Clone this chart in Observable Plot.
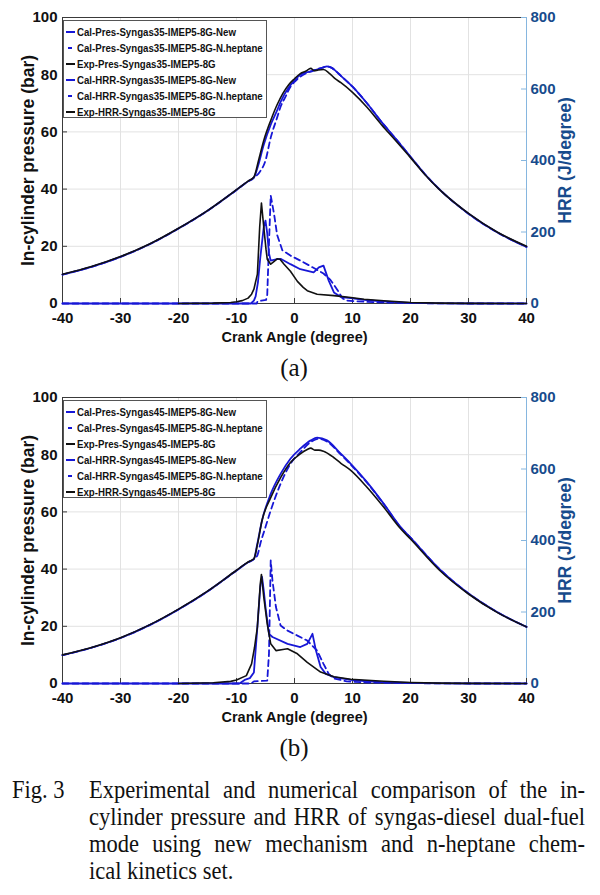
<!DOCTYPE html>
<html><head><meta charset="utf-8">
<script src="https://cdn.jsdelivr.net/npm/d3@7"></script>
<script src="https://cdn.jsdelivr.net/npm/@observablehq/plot@0.6"></script>
<style>
body{margin:0;background:#fff;}
#fig{position:relative;width:600px;height:895px;font-family:"Liberation Sans",Arial,sans-serif;overflow:hidden;}
.chart{position:absolute;left:0;width:600px;height:352px;}
.legend{position:absolute;left:63px;top:20px;width:204px;height:98px;border:1px solid #555;background:#fff;box-sizing:border-box;}
.row{position:absolute;left:0;height:16px;line-height:16px;font-size:11.5px;font-weight:bold;white-space:nowrap;color:#111;}
.row .sw{position:absolute;left:2px;top:7px;width:9px;height:0;border-top:2px solid;}
.row .sw.dash{left:4px;width:4px;}
.row .tx{position:absolute;left:13px;top:0;transform:scaleX(0.84);transform-origin:left center;}
.sub{position:absolute;left:62px;width:464px;text-align:center;font-family:"Liberation Serif","Times New Roman",serif;font-size:25px;height:30px;line-height:30px;color:#111;}
.cap{position:absolute;font-family:"Liberation Serif","Times New Roman",serif;font-size:25px;line-height:27px;color:#111;transform:scaleX(0.9);transform-origin:left top;}
.cap .ln{white-space:nowrap;text-align:justify;text-align-last:justify;}
.cap .ln.last{text-align-last:left;}
</style>
</head><body>
<div id="fig"></div>
<script>
// ---------- data ----------
const HRR_PER_BAR = 8; // right axis (J/degree) = left axis (bar) * 8
const angleTicks = [-40, -30, -20, -10, 0, 10, 20, 30, 40];
const pressureTicks = [0, 20, 40, 60, 80, 100];
const hrrTicks = [0, 200, 400, 600, 800];
const xTitle = "Crank Angle (degree)";
const yTitle = "In-cylinder pressure (bar)";
const y2Title = "HRR (J/degree)";

const legendA = ["Cal-Pres-Syngas35-IMEP5-8G-New", "Cal-Pres-Syngas35-IMEP5-8G-N.heptane", "Exp-Pres-Syngas35-IMEP5-8G",
  "Cal-HRR-Syngas35-IMEP5-8G-New", "Cal-HRR-Syngas35-IMEP5-8G-N.heptane", "Exp-HRR-Syngas35-IMEP5-8G"];
const legendB = ["Cal-Pres-Syngas45-IMEP5-8G-New", "Cal-Pres-Syngas45-IMEP5-8G-N.heptane", "Exp-Pres-Syngas45-IMEP5-8G",
  "Cal-HRR-Syngas45-IMEP5-8G-New", "Cal-HRR-Syngas45-IMEP5-8G-N.heptane", "Exp-HRR-Syngas45-IMEP5-8G"];

// (a) Syngas35 — pressure in bar: [crank angle, value]
const aPresExp = [[-40,10.2],[-35,12.9],[-30,16.4],[-25,20.8],[-20,26.3],[-15,32.5],[-10,39.8],[-8,42.8],[-7,44.2],[-6.2,50],[-5.3,57],[-4.1,64],[-3,69.5],[-2,73.5],[-1,76.5],[0,78.6],[1,80.4],[2,81.3],[2.8,82.2],[3.4,81.4],[4,81.6],[5,81.8],[6,80.5],[7,78.6],[8,77.2],[10,73.8],[12.5,68.6],[15,62.5],[17.5,56.8],[20,51],[22.5,45],[25,39.8],[30,31.5],[35,24.9],[40,20.0]];
const aPresNew = [[-40,10.1],[-35,12.8],[-30,16.3],[-25,20.7],[-20,26.2],[-15,32.4],[-10,39.7],[-8,42.7],[-7,44.0],[-6.3,48],[-5.3,55.5],[-4.1,62.5],[-3,67.5],[-2.4,70.5],[-1,75.5],[0,78],[1,80],[2,80.8],[3,81.2],[4,81.9],[5,82.6],[5.6,82.9],[6.5,82.3],[7,81.5],[8,79.6],[10,75.8],[12.5,70],[15,63.5],[17.5,57.5],[20,51.3],[22.5,45.2],[25,39.9],[30,31.4],[35,24.8],[40,19.8]];
const aPresNhep = [[-40,10.1],[-35,12.8],[-30,16.3],[-25,20.7],[-20,26.2],[-15,32.4],[-10,39.7],[-8,42.7],[-7,44.0],[-6,46],[-5,50],[-4.1,58],[-3,65],[-2.4,68.8],[-1.5,72.5],[-0.7,75.8],[0,77.5],[1,79.3],[2,80.5],[3,81.3],[4,82],[5,82.6],[5.6,82.9],[6.5,82.3],[7,81.5],[8,79.6],[10,75.8],[12.5,70],[15,63.5],[17.5,57.5],[20,51.3],[22.5,45.2],[25,39.9],[30,31.4],[35,24.8],[40,19.8]];
// (a) HRR in J/degree
const aHrrExp = [[-20,0],[-14,1],[-11,3],[-10,5],[-9,8],[-8,15],[-7.4,26],[-7,40],[-6.4,82],[-6,214],[-5.7,281],[-5.3,214],[-4.9,150],[-4.7,124],[-4.1,110],[-3.5,118],[-3,125],[-2.5,124],[-1.8,110],[-0.7,90],[0.5,62],[1.5,45],[2.2,36],[3.9,26],[6.8,22],[9.7,17],[12,12],[15.4,7.6],[20,3],[25,1],[30,0.3],[40,0]];
const aHrrNew = [[-40,0],[-7.5,0],[-7.2,5],[-7,8],[-6.7,20],[-6.3,60],[-5.9,128],[-5.3,214],[-5,232],[-4.7,196],[-4.4,140],[-4.1,120],[-3,124],[-2.4,125],[-0.7,110],[1,96],[3.3,87],[4.2,101],[5,106],[5.9,64],[6.8,31],[8,18],[9.7,15],[12,10],[15,6],[20,2],[25,0.5],[30,0],[40,0]];
const aHrrNhep = [[-40,0],[-6.5,0],[-6.4,5],[-5.7,8],[-4.9,10],[-4.7,24],[-4.4,168],[-4.1,302],[-3.5,248],[-3,192],[-2.1,149],[-0.7,134],[1,120],[2.8,104],[5,84],[6.2,66],[7.4,38],[8.3,14],[9.1,8],[12,5],[15,3],[20,1],[30,0],[40,0]];

// (b) Syngas45 — pressure in bar
const bPresExp = [[-40,10],[-35,12.6],[-30,16],[-25,20.5],[-20,26],[-15,32.3],[-10,39.6],[-8,42.5],[-7,43.6],[-6.4,48.5],[-5.6,57],[-4.1,65],[-2.4,72],[-0.7,77.3],[1,80.3],[2.2,81.8],[2.8,82.3],[3.5,81.6],[4.2,81.6],[5,81.2],[6.7,79.1],[8,77],[9.7,74.5],[12.5,68.6],[15.4,61.6],[18.3,54.1],[20,50.5],[25,39.6],[30,31.3],[35,24.8],[40,19.8]];
const bPresNew = [[-40,9.9],[-35,12.5],[-30,15.9],[-25,20.4],[-20,25.9],[-15,32.2],[-10,39.5],[-8,42.4],[-7,43.5],[-6.4,49],[-5.6,57],[-4.1,66.3],[-2.4,73.3],[-0.7,78.6],[1,82.1],[2.8,85],[3.9,86],[5.6,85],[8,80.3],[9.7,76.8],[12.5,70.4],[15.4,62.8],[18.3,54.7],[20,51],[25,40],[30,31.5],[35,24.9],[40,19.8]];
const bPresNhep = [[-40,9.9],[-35,12.5],[-30,15.9],[-25,20.4],[-20,25.9],[-15,32.2],[-10,39.5],[-8,42.4],[-7,43.5],[-6.4,44.8],[-5.9,48.8],[-5,54.7],[-4.1,60.5],[-2.4,69.8],[-0.7,76.8],[1,80.9],[2.8,84.4],[4.2,85.6],[5.6,84.6],[8,80],[9.7,76.5],[12.5,70.2],[15.4,62.7],[18.3,54.6],[20,51],[25,40],[30,31.5],[35,24.9],[40,19.8]];
// (b) HRR in J/degree
const bHrrExp = [[-20,0],[-14,2],[-11,6],[-10,10],[-8.3,22],[-7.4,55],[-6.9,100],[-6.4,158],[-5.9,279],[-5.7,305],[-5.3,242],[-4.7,167],[-4.1,111],[-3.2,92],[-2,95],[-1.2,97],[0.5,83],[2.2,59],[4.5,32],[6.8,19],[9.7,12],[15.4,6.4],[20,3],[25,1],[30,0.3],[40,0]];
const bHrrNew = [[-40,0],[-9.5,0],[-8.6,10],[-7.7,15],[-7,31],[-6.4,158],[-5.9,270],[-5.6,298],[-5.3,260],[-5,214],[-4.4,139],[-3.8,130],[-1.2,111],[1,102],[2.2,111],[3.1,139],[3.7,92],[4.5,46],[5.4,27],[6.8,18],[9.7,10],[12,7],[15,4],[20,1.5],[25,0.5],[30,0],[40,0]];
const bHrrNhep = [[-40,0],[-7.5,0],[-7,6],[-4.7,8],[-4.4,83],[-4.1,344],[-3.8,288],[-3.2,214],[-2.4,162],[-1.2,148],[0.5,134],[2.2,120],[3.9,92],[5,55],[5.9,27],[6.8,14],[9,6],[12,3],[20,1],[30,0],[40,0]];

// ---------- drawing ----------
const BLUE = "#1717d6", BLACK = "#111111", AXBLUE = "#174b8c", SPINEBLUE = "#86b6df";
const W = 600, H = 352, MT = 17, MB = 49, ML = 62, MR = 74;
const plotW = W - ML - MR, plotH = H - MT - MB;
const FONT = "'Liberation Sans', Arial, sans-serif";

function chart(s) {
  const P = {x: d => d[0], y: d => d[1], curve: "monotone-x"};
  const Q = {x: d => d[0], y: d => d[1] / HRR_PER_BAR};
  const hrrPos = hrrTicks.map(h => h / HRR_PER_BAR);
  return Plot.plot({
    width: W, height: H, marginTop: MT, marginBottom: MB, marginLeft: ML, marginRight: MR,
    x: {domain: [-40, 40]},
    y: {domain: [0, 100]},
    style: {fontFamily: FONT, background: "transparent", overflow: "visible"},
    marks: [
      Plot.gridX(angleTicks, {stroke: "#e2e2e2", strokeOpacity: 1}),
      Plot.gridY(pressureTicks, {stroke: "#e2e2e2", strokeOpacity: 1}),
      Plot.frame({stroke: "#3a3a3a"}),
      Plot.ruleX([40], {stroke: SPINEBLUE}),
      Plot.tickX(angleTicks, {x: d => d, insetTop: plotH - 5, stroke: "#3a3a3a"}),
      Plot.tickY(pressureTicks, {y: d => d, insetRight: plotW - 5, stroke: "#3a3a3a"}),
      Plot.tickY(hrrPos, {y: d => d, insetLeft: plotW - 5, stroke: SPINEBLUE}),
      Plot.axisX(angleTicks, {anchor: "bottom", tickSize: 0, tickPadding: 9, fontSize: 15, fontWeight: "bold", color: "#111",
        tickFormat: d => String(d), label: null}),
      Plot.axisY(pressureTicks, {anchor: "left", tickSize: 0, tickPadding: 5, fontSize: 15, fontWeight: "bold", color: "#111",
        tickFormat: d => String(d), label: null}),
      Plot.axisY(hrrPos, {anchor: "right", tickSize: 0, tickPadding: 4, fontSize: 15, fontWeight: "bold",
        color: AXBLUE, tickFormat: d => String(d * HRR_PER_BAR), label: null}),
      Plot.text([xTitle], {text: d => d, frameAnchor: "bottom", textAnchor: "middle", dy: 38, fontSize: 14.5, fontWeight: "bold", fill: "#111"}),
      Plot.text([yTitle], {text: d => d, frameAnchor: "left", textAnchor: "middle", dx: -34, rotate: -90, fontSize: 17.5, fontWeight: "bold", fill: "#111"}),
      Plot.text([y2Title], {text: d => d, frameAnchor: "right", textAnchor: "middle", dx: 39, rotate: -90, fontSize: 17.5, fontWeight: "bold", fill: AXBLUE}),
      // HRR
      Plot.line(s.hrrNhep, {...Q, stroke: BLUE, strokeWidth: 1.8, strokeDasharray: "6,4"}),
      Plot.line(s.hrrNew, {...Q, stroke: BLUE, strokeWidth: 1.8}),
      Plot.line(s.hrrExp, {...Q, stroke: BLACK, strokeWidth: 1.6}),
      // Pressure
      Plot.line(s.presNhep, {...P, stroke: BLUE, strokeWidth: 1.8, strokeDasharray: "6,4"}),
      Plot.line(s.presNew, {...P, stroke: BLUE, strokeWidth: 1.8}),
      Plot.line(s.presExp, {...P, stroke: BLACK, strokeWidth: 1.6})
    ]
  });
}

function legend(labels) {
  const styles = [["solid", BLUE], ["dash", BLUE], ["solid", BLACK], ["solid", BLUE], ["dash", BLUE], ["solid", BLACK]];
  const box = document.createElement("div");
  box.className = "legend";
  labels.forEach((t, i) => {
    const r = document.createElement("div");
    r.className = "row";
    r.style.top = (3 + i * 16) + "px";
    const sw = document.createElement("span");
    sw.className = "sw" + (styles[i][0] === "dash" ? " dash" : "");
    sw.style.borderTopColor = styles[i][1];
    const tx = document.createElement("span");
    tx.className = "tx";
    tx.textContent = t;
    r.append(sw, tx);
    box.append(r);
  });
  return box;
}

const fig = document.getElementById("fig");
function addChart(top, s, labels, sub) {
  const c = document.createElement("div");
  c.className = "chart";
  c.style.top = top + "px";
  c.append(chart(s));
  c.append(legend(labels));
  fig.append(c);
  const d = document.createElement("div");
  d.className = "sub";
  d.style.top = (top + 353) + "px";
  d.textContent = sub;
  fig.append(d);
}
addChart(0, {presExp: aPresExp, presNew: aPresNew, presNhep: aPresNhep, hrrExp: aHrrExp, hrrNew: aHrrNew, hrrNhep: aHrrNhep}, legendA, "(a)");
addChart(380, {presExp: bPresExp, presNew: bPresNew, presNhep: bPresNhep, hrrExp: bHrrExp, hrrNew: bHrrNew, hrrNhep: bHrrNhep}, legendB, "(b)");

const captionLabel = "Fig. 3";
const captionLines = ["Experimental and numerical comparison of the in-",
  "cylinder pressure and HRR of syngas-diesel dual-fuel",
  "mode using new mechanism and n-heptane chem-",
  "ical kinetics set."];
const capLabel = document.createElement("div");
capLabel.className = "cap";
capLabel.style.left = "12px"; capLabel.style.top = "776px";
capLabel.textContent = captionLabel;
fig.append(capLabel);
const cap = document.createElement("div");
cap.className = "cap";
cap.style.left = "89px"; cap.style.top = "776px"; cap.style.width = (496 / 0.9) + "px";
captionLines.forEach((t, i) => {
  const l = document.createElement("div");
  l.className = "ln" + (i === captionLines.length - 1 ? " last" : "");
  l.textContent = t;
  cap.append(l);
});
fig.append(cap);
</script>
</body></html>
